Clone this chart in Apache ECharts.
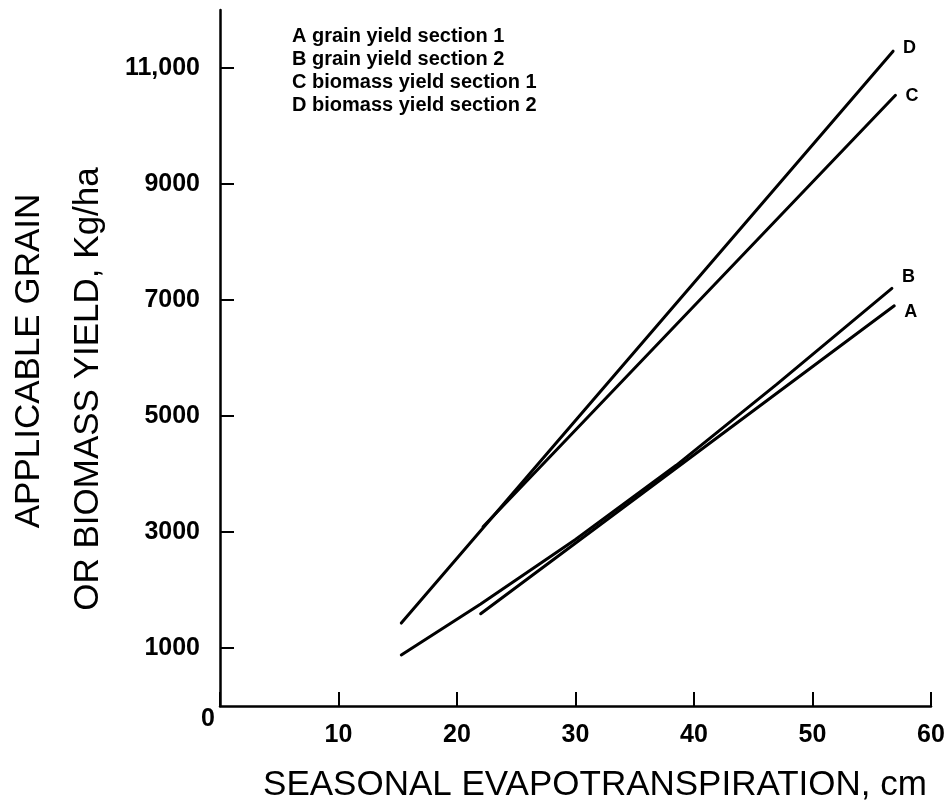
<!DOCTYPE html>
<html>
<head>
<meta charset="utf-8">
<script src="https://cdn.jsdelivr.net/npm/echarts@6/dist/echarts.min.js"></script>
<style>
  html, body { margin: 0; padding: 0; background: #fff; }
  #chart { width: 948px; height: 809px; }
</style>
</head>
<body>
<div id="chart"></div>
<script>
// Seasonal evapotranspiration (cm) vs. yield (kg/ha) for each fitted line
const lineNames = ['A', 'B', 'C', 'D'];
const lineA = [[22.0, 1590], [56.9, 6900]];
const lineB = [[15.3, 880], [22, 1760], [30, 2870], [38.5, 4150], [47, 5550], [56.7, 7200]];
const lineC = [[22.2, 3090], [57.0, 10530]];
const lineD = [[15.3, 1430], [56.8, 11290]];
const endLabelOffsets = { A: [0, 6], B: [0, -11], C: [0, 1], D: [0, -3] };

const legendLines = [
  'A grain yield section 1',
  'B grain yield section 2',
  'C biomass yield section 1',
  'D biomass yield section 2'
];

const xTickLabels = [10, 20, 30, 40, 50, 60];
const yTickValues = [1000, 3000, 5000, 7000, 9000, 11000];
const yTickLabels = ['1000', '3000', '5000', '7000', '9000', '11,000'];

const xTitle = 'SEASONAL EVAPOTRANSPIRATION, cm';
const yTitleLines = ['APPLICABLE GRAIN', 'OR BIOMASS YIELD, Kg/ha'];

const numFont = '"Liberation Sans", Arial, sans-serif';
const titleFont = '"Liberation Sans", Arial, sans-serif';

const chart = echarts.init(document.getElementById('chart'), null, { renderer: 'canvas' });

const seriesData = { A: lineA, B: lineB, C: lineC, D: lineD };

const series = lineNames.map(function (n) {
  return {
    name: n,
    type: 'line',
    data: seriesData[n],
    showSymbol: false,
    symbol: 'none',
    lineStyle: { color: '#000', width: 3, cap: 'round' },
    endLabel: {
      show: true,
      formatter: n,
      distance: 10,
      offset: endLabelOffsets[n],
      color: '#000',
      fontFamily: numFont,
      fontWeight: 'bold',
      fontSize: 18
    },
    silent: true,
    z: 3
  };
});

const legendGraphics = legendLines.map(function (t, i) {
  return {
    type: 'text',
    left: 292,
    top: 26 + i * 23,
    style: {
      text: t,
      fill: '#000',
      font: 'bold 20px ' + numFont
    }
  };
});

chart.setOption({
  animation: false,
  backgroundColor: '#fff',
  grid: { left: 220, right: 17, top: 10, bottom: 103, containLabel: false },
  xAxis: {
    type: 'value',
    min: 0,
    max: 60,
    interval: 10,
    axisLine: { show: true, onZero: false, lineStyle: { color: '#000', width: 2.5 } },
    axisTick: { show: true, inside: true, length: 14, lineStyle: { color: '#000', width: 2 } },
    axisLabel: {
      margin: 17,
      color: '#000',
      fontFamily: numFont,
      fontWeight: 'bold',
      fontSize: 25,
      formatter: function (v) { return xTickLabels.indexOf(v) >= 0 ? String(v) : ''; }
    },
    splitLine: { show: false }
  },
  yAxis: {
    type: 'value',
    min: 0,
    max: 12000,
    axisLine: { show: true, onZero: false, lineStyle: { color: '#000', width: 2.5 } },
    axisTick: {
      show: true, inside: true, length: 14,
      customValues: yTickValues,
      lineStyle: { color: '#000', width: 2 }
    },
    axisLabel: {
      margin: 20,
      color: '#000',
      fontFamily: numFont,
      fontWeight: 'bold',
      fontSize: 25,
      customValues: yTickValues,
      formatter: function (v) {
        const i = yTickValues.indexOf(v);
        return i >= 0 ? yTickLabels[i] : '';
      }
    },
    splitLine: { show: false }
  },
  series: series,
  graphic: legendGraphics.concat([
    {
      // origin label shared by both axes
      type: 'text',
      left: 201,
      top: 707,
      style: { text: '0', fill: '#000', font: 'bold 25px ' + numFont }
    },
    {
      type: 'text',
      x: 595,
      y: 785,
      style: {
        text: xTitle, fill: '#000', font: '35px ' + titleFont,
        textAlign: 'center', textVerticalAlign: 'middle'
      }
    },
    {
      type: 'text',
      x: 29,
      y: 361,
      rotation: Math.PI / 2,
      style: {
        text: yTitleLines[0], fill: '#000', font: '35px ' + titleFont,
        textAlign: 'center', textVerticalAlign: 'middle'
      }
    },
    {
      type: 'text',
      x: 88,
      y: 389,
      rotation: Math.PI / 2,
      style: {
        text: yTitleLines[1], fill: '#000', font: '35px ' + titleFont,
        textAlign: 'center', textVerticalAlign: 'middle'
      }
    }
  ])
});
</script>
</body>
</html>
